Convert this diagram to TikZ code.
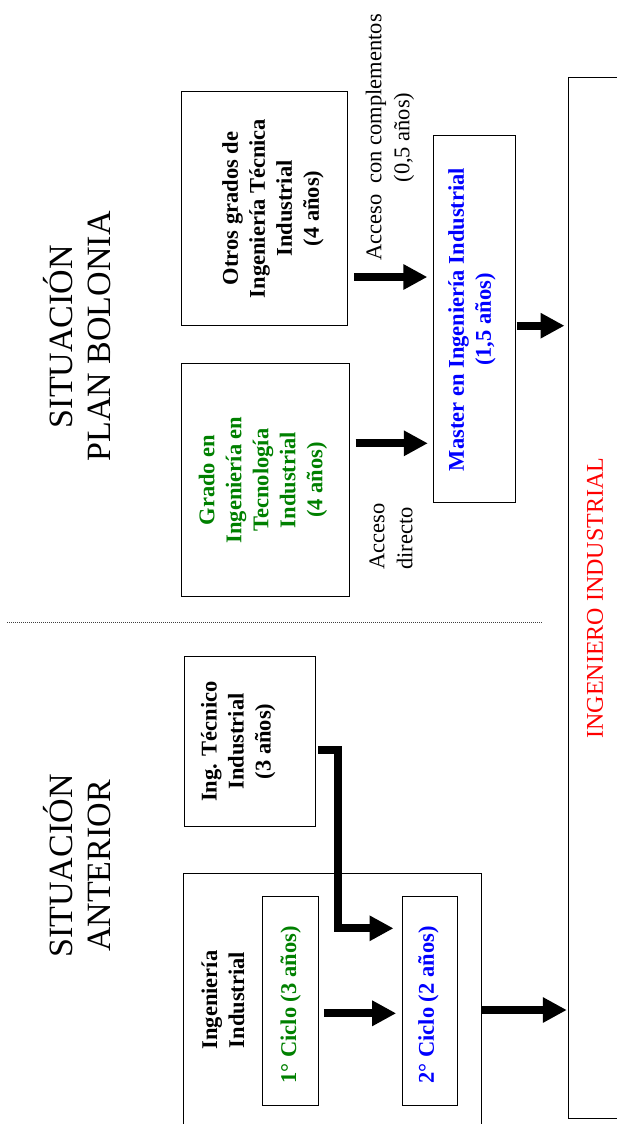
\documentclass[tikz,border=0pt]{standalone}
\usepackage{fontspec}
\setmainfont{Liberation Serif}
\usetikzlibrary{arrows.meta}
\definecolor{verde}{RGB}{0,128,0}
\definecolor{azul}{RGB}{0,0,255}
\definecolor{rojo}{RGB}{255,0,0}

\begin{document}
\begin{tikzpicture}[x=1pt,y=-1pt,
  caja/.style={draw,line width=1pt,inner sep=0pt},
  txt/.style={rotate=90,align=center,inner sep=0pt,font=\fontsize{22.5}{27}\selectfont\bfseries},
  acc/.style={rotate=90,inner sep=0pt,font=\fontsize{22.5}{28}\selectfont},
  titulo/.style={rotate=90,align=center,inner sep=0pt,font=\fontsize{34}{38}\selectfont},
  flecha/.style={line width=8pt,-{Triangle[length=24pt,width=24pt]}}]
\useasboundingbox (0,0) rectangle (616,1124);

% situacion plan bolonia
\node[titulo] (tbolonia) at (76.7,336.5) {SITUACIÓN\\PLAN BOLONIA};
\node[caja,minimum width=165.6,minimum height=233.3] (otros) at (264.5,208.4) {};
\node[txt] (totros) at (273,208.5) {Otros grados de\\Ingeniería Técnica\\Industrial\\(4 años)};
\node[caja,minimum width=167.6,minimum height=232.7] (grado) at (265.5,480.3) {};
\node[txt,text=verde] (tgrado) at (263,480) {Grado en\\Ingeniería en\\Tecnología\\Industrial\\(4 años)};
\node[caja,minimum width=81.7,minimum height=367] (master) at (474.2,319.2) {};
\node[txt,text=azul] (tmaster) at (472,319.5) {Master en Ingeniería Industrial\\(1,5 años)};
\node[acc,align=center] (acccomp) at (390,137.5) {Acceso\ \ con complementos\\(0,5 años)};
\node[acc,align=left] (accdir) at (391,536.5) {Acceso\\directo};

\draw[flecha,shorten <=6.5,shorten >=5.5] (otros.east |- 0,277) -- (master.west |- 0,277);
\draw[flecha,shorten <=5.7,shorten >=5] (grado.east |- 0,443.3) -- (master.west |- 0,443.3);

% ingeniero industrial
\node[caja,minimum width=98,minimum height=1041] (ingeniero) at (617,598.2) {};
\node[rotate=90,inner sep=0pt,text=rojo,font=\fontsize{24}{28}\selectfont] (tingeniero) at (595,598) {INGENIERO INDUSTRIAL};
\draw[flecha,shorten <=1,shorten >=3] (master.east |- 0,325.7) -- (ingeniero.west |- 0,325.7);

\draw[line width=1pt,dash pattern=on 1pt off 1pt,black!75] (7,622.7) -- (541.7,622.7);

% situacion anterior
\node[titulo] (tanterior) at (77,866) {SITUACIÓN\\ANTERIOR};
\node[caja,minimum width=130.7,minimum height=170.3] (tecnico) at (250.3,741.8) {};
\node[txt] (ttecnico) at (238.3,741.5) {Ing. Técnico\\Industrial\\(3 años)};
\node[caja,minimum width=298,minimum height=277] (ingind) at (332.3,1011.8) {};
\node[txt] (tingind) at (223,1000) {Ingeniería\\Industrial};
\node[caja,minimum width=56,minimum height=209.3] (ciclo1) at (290.3,1001.3) {};
\node[txt,text=verde] (tciclo1) at (290.8,1005) {1° Ciclo (3 años)};
\node[caja,minimum width=55,minimum height=209.3] (ciclo2) at (429.8,1001.3) {};
\node[txt,text=azul] (tciclo2) at (428.5,1005) {2° Ciclo (2 años)};

\draw[flecha,shorten <=2,shorten >=8.3] (tecnico.east |- 0,750) -| (337.5,928.3) -- (ciclo2.west |- 0,928.3);
\draw[flecha,shorten <=5,shorten >=5.6] (ciclo1.east |- 0,1013.3) -- (ciclo2.west |- 0,1013.3);
\draw[flecha,shorten >=0.7] (ingind.east |- 0,1010) -- (ingeniero.west |- 0,1010);
\end{tikzpicture}
\end{document}
